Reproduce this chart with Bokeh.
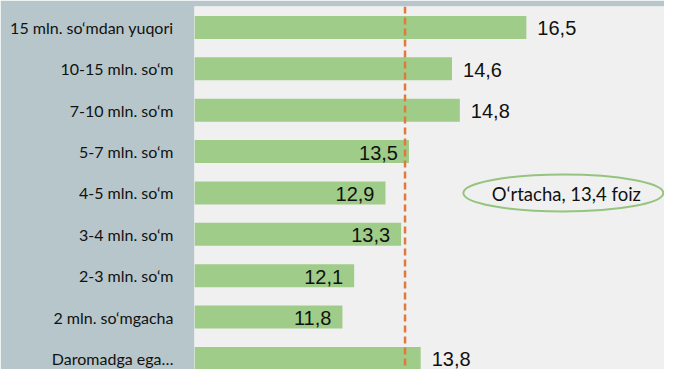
from bokeh.plotting import figure
from bokeh.models import Range1d, Span, ColumnDataSource, FixedTicker
from bokeh.core.properties import value
from bokeh.embed import file_html
from bokeh.resources import INLINE

# data (top to bottom as displayed)
categories = ["15 mln. so‘mdan yuqori", "10-15 mln. so‘m", "7-10 mln. so‘m",
              "5-7 mln. so‘m", "4-5 mln. so‘m", "3-4 mln. so‘m", "2-3 mln. so‘m",
              "2 mln. so‘mgacha", "Daromadga ega…"]
values = [16.5, 14.6, 14.8, 13.5, 12.9, 13.3, 12.1, 11.8, 13.8]
label_inside = [False, False, False, True, True, True, True, True, False]
average = 13.4
note_index = 4  # "4-5 mln. so‘m"

fmt = lambda v: f"{v:.1f}".replace(".", ",")
pos = list(range(len(categories)))

p = figure(width=664, height=369, output_backend="svg", toolbar_location=None,
           y_range=Range1d(len(categories) - 1 + 0.266, -0.507), x_range=Range1d(8.02, 20.03),
           min_border_left=194, min_border_right=0, min_border_top=6, min_border_bottom=0)
p.border_fill_color = "#b7c6ca"
p.background_fill_color = "#f0f0f0"
p.outline_line_color = None
p.grid.visible = False
p.xaxis.visible = False
yax = p.yaxis[0]
yax.ticker = FixedTicker(ticks=pos)
yax.major_label_overrides = {i: c for i, c in zip(pos, categories)}
yax.axis_line_color = None
yax.major_tick_line_color = None
yax.minor_tick_line_color = None
yax.major_tick_out = 0
yax.major_tick_in = 0
yax.minor_tick_out = 0
yax.major_label_standoff = 21
yax.major_label_text_font = "Lato"
yax.major_label_text_font_size = "16px"
yax.major_label_text_color = "#111111"

src = ColumnDataSource(dict(pos=pos, val=values))
p.hbar(y="pos", left=8, right="val", height=0.556, source=src,
       fill_color="#9fcc89", line_color=None)

out_idx = [i for i, f in enumerate(label_inside) if not f]
in_idx = [i for i, f in enumerate(label_inside) if f]
p.text(x=[values[i] for i in out_idx], y=[pos[i] for i in out_idx],
       text=[fmt(values[i]) for i in out_idx], x_offset=11, y_offset=1,
       text_align="left", text_baseline="middle", text_font=value("Liberation Sans"),
       text_font_size="20px", text_color="#111111")
p.text(x=[values[i] for i in in_idx], y=[pos[i] for i in in_idx],
       text=[fmt(values[i]) for i in in_idx], x_offset=-11, y_offset=1,
       text_align="right", text_baseline="middle", text_font=value("Liberation Sans"),
       text_font_size="20px", text_color="#111111")

p.add_layout(Span(location=average, dimension="height", line_color="#e07a3c",
                  line_width=2.5, line_dash="7 4"))

note_x = average + 4.045
p.ellipse(x=[note_x], y=[pos[note_index]], width=200, height=37,
          width_units="screen", height_units="screen",
          fill_color=None, line_color="#94c47e", line_width=2)
p.text(x=[note_x], y=[pos[note_index]], text=[f"O‘rtacha, {fmt(average)} foiz"],
       x_offset=3, y_offset=1, text_align="center", text_baseline="middle",
       text_font=value("Lato"), text_font_size="18.5px", text_color="#111111")

open("out.html", "w").write(file_html(p, INLINE))
